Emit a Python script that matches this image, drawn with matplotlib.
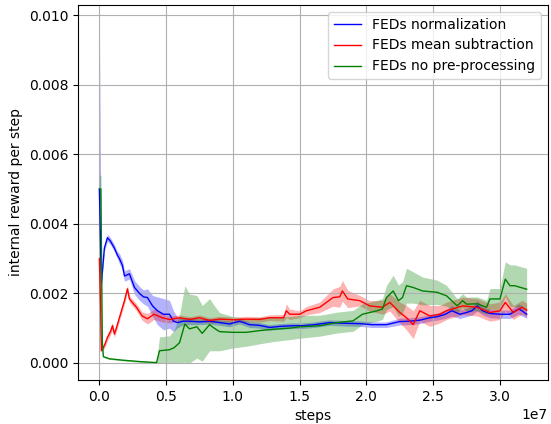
import matplotlib
matplotlib.use("Agg")
import matplotlib.pyplot as plt
import numpy as np

# steps are given in millions, values in 1e-3
blue_steps = [0.0, 0.15, 0.375, 0.6, 0.83, 1.125, 1.35, 1.5, 1.73, 1.88, 2.25, 2.63, 3.0, 3.3,
              3.6, 3.98, 4.35, 4.8, 5.25, 5.55, 5.85, 6.3, 6.75, 7.5, 8.25, 9.0, 9.75, 10.5,
              11.25, 12.0, 12.75, 13.5, 14.5, 15.2, 16.1, 17.25, 18.4, 19.5, 20.4, 21.5, 22.5,
              23.25, 24.0, 24.75, 25.3, 25.9, 26.4, 27.0, 27.5, 27.9, 28.3, 28.7, 29.25, 30.0,
              30.75, 31.4, 31.65, 32.0]
blue_mean = [5.0, 2.3, 3.3, 3.6, 3.5, 3.3, 3.1, 3.0, 2.8, 2.5, 2.56, 2.17, 2.0, 1.9,
             1.88, 1.64, 1.5, 1.4, 1.4, 1.2, 1.16, 1.2, 1.2, 1.18, 1.2, 1.16, 1.12, 1.2,
             1.1, 1.08, 1.02, 1.05, 1.07, 1.07, 1.1, 1.16, 1.14, 1.13, 1.1, 1.1, 1.19,
             1.2, 1.23, 1.3, 1.33, 1.4, 1.5, 1.4, 1.45, 1.5, 1.64, 1.5, 1.42, 1.4,
             1.4, 1.55, 1.5, 1.4]
blue_std = [4.8, 0.1, 0.1, 0.1, 0.1, 0.1, 0.1, 0.15, 0.15, 0.15, 0.15, 0.2, 0.2, 0.2,
            0.25, 0.3, 0.4, 0.45, 0.4, 0.3, 0.15, 0.1, 0.1, 0.08, 0.08, 0.08, 0.08, 0.08,
            0.08, 0.08, 0.08, 0.08, 0.08, 0.08, 0.08, 0.08, 0.08, 0.08, 0.08, 0.08, 0.1,
            0.1, 0.1, 0.1, 0.1, 0.12, 0.15, 0.12, 0.12, 0.12, 0.15, 0.12, 0.12, 0.12,
            0.12, 0.15, 0.15, 0.12]

red_steps = [0.0, 0.1, 0.15, 0.375, 0.6, 0.83, 0.98, 1.125, 1.35, 1.5, 1.73, 1.88, 2.1, 2.25,
             2.55, 2.78, 3.2, 3.6, 4.1, 4.7, 5.25, 6.0, 6.75, 7.5, 8.25, 9.0, 10.1, 11.0,
             12.0, 12.75, 13.8, 14.0, 14.25, 15.0, 15.5, 16.5, 17.5, 18.0, 18.2, 18.6, 19.5,
             20.25, 21.2, 21.75, 22.5, 23.0, 23.5, 24.0, 24.75, 25.5, 26.0, 27.2, 28.3, 29.25,
             30.0, 30.4, 31.0, 31.65, 32.0]
red_mean = [3.0, 1.5, 0.35, 0.5, 0.73, 0.9, 1.07, 0.83, 1.1, 1.3, 1.6, 1.79, 2.13, 1.84,
            1.7, 1.6, 1.35, 1.27, 1.4, 1.3, 1.25, 1.3, 1.25, 1.3, 1.22, 1.26, 1.24, 1.26,
            1.25, 1.3, 1.3, 1.5, 1.4, 1.4, 1.5, 1.6, 1.88, 1.9, 2.07, 1.84, 1.79,
            1.64, 1.6, 1.74, 1.45, 1.3, 1.1, 1.5, 1.35, 1.4, 1.5, 1.64, 1.6, 1.45,
            1.5, 1.74, 1.45, 1.6, 1.52]
red_std = [0.1, 0.1, 0.05, 0.08, 0.1, 0.1, 0.1, 0.1, 0.1, 0.1, 0.1, 0.1, 0.1, 0.1,
           0.1, 0.1, 0.12, 0.15, 0.15, 0.12, 0.1, 0.08, 0.08, 0.08, 0.08, 0.08, 0.08, 0.08,
           0.08, 0.08, 0.1, 0.2, 0.15, 0.1, 0.12, 0.15, 0.25, 0.3, 0.3, 0.25, 0.15,
           0.15, 0.2, 0.25, 0.3, 0.35, 0.4, 0.3, 0.3, 0.25, 0.25, 0.25, 0.25, 0.25,
           0.25, 0.25, 0.2, 0.2, 0.2]

green_steps = [0.0, 0.11, 0.22, 0.3, 0.75, 1.73, 3.0, 4.28, 4.5, 5.25, 5.6, 6.0, 6.4, 6.75,
               7.3, 7.7, 8.25, 8.6, 9.0, 10.0, 11.0, 12.0, 13.1, 14.25, 15.0, 16.5, 17.8,
               19.0, 19.7, 20.8, 21.2, 21.5, 22.0, 22.4, 22.7, 23.0, 23.5, 24.2, 25.3, 26.0,
               26.8, 27.2, 27.5, 28.3, 29.0, 29.25, 30.0, 30.4, 30.75, 31.1, 32.0]
green_mean = [5.0, 5.0, 0.6, 0.18, 0.12, 0.08, 0.04, 0.01, 0.35, 0.38, 0.44, 0.58, 1.12, 0.98,
              1.04, 0.85, 1.1, 1.0, 0.9, 0.88, 0.88, 0.93, 0.97, 1.0, 1.04, 1.07, 1.16,
              1.21, 1.4, 1.5, 1.55, 1.88, 2.07, 1.79, 1.88, 2.22, 2.17, 2.07, 2.03, 1.93,
              1.64, 1.79, 1.69, 1.7, 1.6, 1.84, 1.84, 2.41, 2.22, 2.22, 2.12]
green_std = [0.4, 0.4, 0.05, 0.02, 0.02, 0.02, 0.02, 0.02, 0.4, 0.4, 0.5, 0.8, 1.1, 1.0,
             0.9, 0.8, 0.75, 0.65, 0.55, 0.45, 0.4, 0.38, 0.35, 0.33, 0.33, 0.3, 0.3,
             0.3, 0.3, 0.3, 0.3, 0.35, 0.45, 0.45, 0.45, 0.5, 0.45, 0.4, 0.35, 0.3,
             0.2, 0.2, 0.2, 0.2, 0.2, 0.3, 0.3, 0.5, 0.6, 0.6, 0.6]

series = [
    ("FEDs normalization", "blue", blue_steps, blue_mean, blue_std),
    ("FEDs mean subtraction", "red", red_steps, red_mean, red_std),
    ("FEDs no pre-processing", "green", green_steps, green_mean, green_std),
]

fig = plt.figure(figsize=(5.51, 4.24), dpi=100)
ax = fig.add_axes([0.1416, 0.1038, 0.853, 0.8844])

for label, color, steps, mean, std in series:
    x = np.array(steps) * 1e6
    m = np.array(mean) * 1e-3
    s = np.array(std) * 1e-3
    ax.plot(x, m, color=color, linewidth=1, label=label)
    ax.fill_between(x, np.clip(m - s, 0, None), m + s, color=color, alpha=0.3, linewidth=0)

ax.set_xlabel("steps")
ax.set_ylabel("internal reward per step")
ax.grid(True)
ax.legend(loc="upper right")

fig.savefig("out.png", dpi=100)
